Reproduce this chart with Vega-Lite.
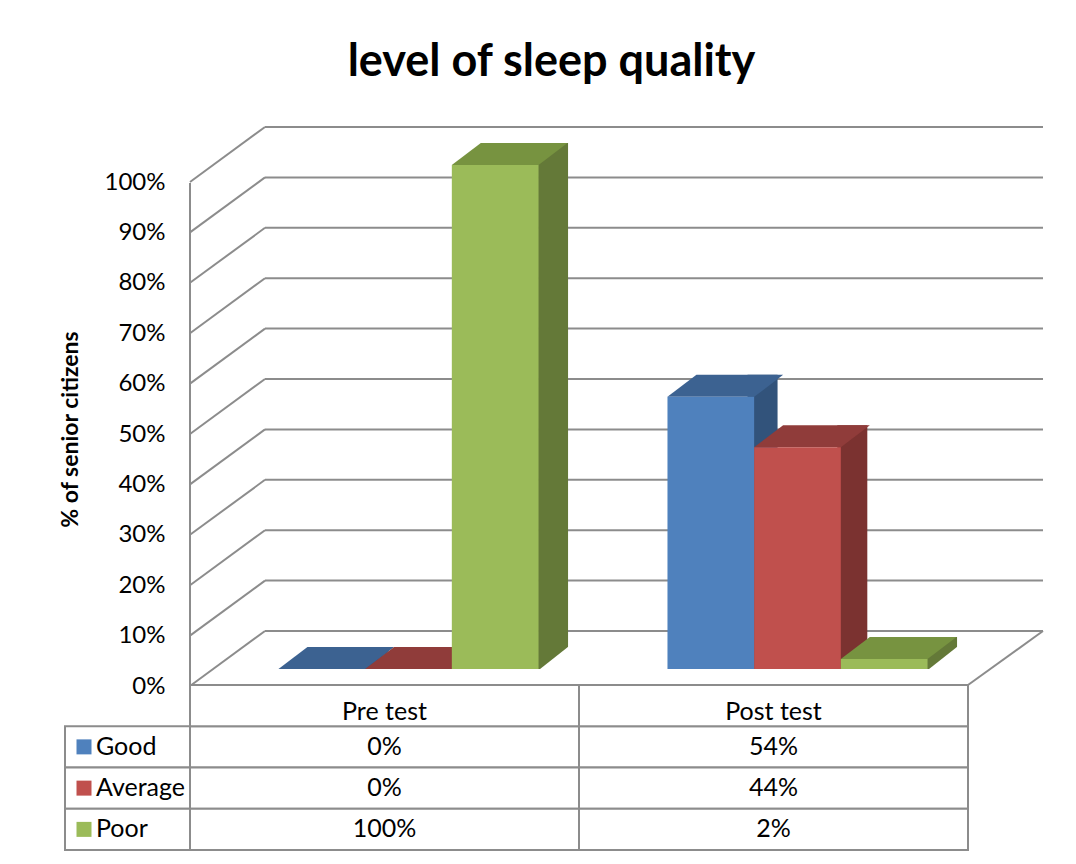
{
  "$schema": "https://vega.github.io/schema/vega-lite/v6.json",
  "background": "white",
  "padding": {"left": 59, "top": 40, "right": 0, "bottom": 0},
  "config": {"font": "Lato", "view": {"stroke": null}},
  "title": {"text": "level of sleep quality", "fontSize": 45, "fontWeight": "bold", "font": "Lato", "color": "black", "offset": 41, "anchor": "middle"},
  "datasets": {
    "bars": [
      {"category": "Pre test", "series": "Good", "value": 0},
      {"category": "Pre test", "series": "Average", "value": 0},
      {"category": "Pre test", "series": "Poor", "value": 1.0},
      {"category": "Post test", "series": "Good", "value": 0.54},
      {"category": "Post test", "series": "Average", "value": 0.44},
      {"category": "Post test", "series": "Poor", "value": 0.02}
    ],
    "ticks": [
      {"t": 0}, {"t": 0.1}, {"t": 0.2}, {"t": 0.3}, {"t": 0.4}, {"t": 0.5},
      {"t": 0.6}, {"t": 0.7}, {"t": 0.8}, {"t": 0.9}, {"t": 1.0}
    ]
  },
  "bounds": "flush",
  "spacing": 16,
  "vconcat": [
    {
      "width": 778,
      "height": 504,
      "layer": [
        {
          "data": {"name": "ticks"},
          "mark": {"type": "rule", "color": "#8c8c8c", "strokeWidth": 2, "xOffset": 75, "x2Offset": 75, "yOffset": -38, "y2Offset": -38},
          "encoding": {
            "x": {"datum": "Pre test", "type": "nominal", "bandPosition": 0, "scale": {"domain": ["Pre test", "Post test"], "paddingInner": 0, "paddingOuter": 0}, "axis": null},
            "x2": {"datum": "Post test", "bandPosition": 1},
            "y": {"field": "t", "type": "quantitative", "scale": {"domain": [0, 1], "nice": false, "zero": true},
              "axis": {"values": [0, 0.1, 0.2, 0.3, 0.4, 0.5, 0.6, 0.7, 0.8, 0.9, 1], "format": ".0%", "labelFontSize": 24, "labelColor": "black", "labelPadding": 25, "labelOffset": 17, "ticks": false, "domain": false, "grid": false, "title": "% of senior citizens", "titleFontSize": 23, "titleFontWeight": "bold", "titleColor": "black", "titlePadding": 22, "titleY": 264, "labelFont": "Lato", "titleFont": "Lato"}},
            "y2": {"field": "t"}
          }
        },
        {
          "data": {"name": "ticks"},
          "mark": {"type": "rule", "color": "#8c8c8c", "strokeWidth": 2, "x2Offset": 75, "yOffset": 17, "y2Offset": -38},
          "encoding": {
            "x": {"datum": "Pre test", "type": "nominal", "bandPosition": 0},
            "x2": {"datum": "Pre test", "bandPosition": 0},
            "y": {"field": "t", "type": "quantitative"},
            "y2": {"field": "t"}
          }
        },
        {
          "data": {"values": [{}]},
          "mark": {"type": "rule", "color": "#8c8c8c", "strokeWidth": 2, "yOffset": 18, "y2Offset": 16},
          "encoding": {
            "x": {"datum": "Pre test", "type": "nominal", "bandPosition": 0},
            "y": {"datum": 1, "type": "quantitative"},
            "y2": {"datum": 0}
          }
        },
        {
          "data": {"values": [{}]},
          "mark": {"type": "rule", "color": "#8c8c8c", "strokeWidth": 2, "x2Offset": 75, "yOffset": 16, "y2Offset": -38},
          "encoding": {
            "x": {"datum": "Post test", "type": "nominal", "bandPosition": 1},
            "x2": {"datum": "Post test", "bandPosition": 1},
            "y": {"datum": 0, "type": "quantitative"},
            "y2": {"datum": 0}
          }
        },
        {
          "data": {"name": "bars"},
          "mark": {"type": "bar", "yOffset": -22},
          "encoding": {
            "x": {"field": "category", "type": "nominal"},
            "xOffset": {"field": "series", "type": "nominal", "sort": ["Good", "Average", "Poor"], "scale": {"type": "band", "domain": ["Good", "Average", "Poor"], "paddingInner": 0.6655, "paddingOuter": 1.0761, "align": 0.939}},
            "y": {"field": "value", "type": "quantitative", "stack": null},
            "color": {"field": "series", "type": "nominal", "scale": {"domain": ["Good", "Average", "Poor"], "range": ["#32537b", "#7b3230", "#647938"]}, "legend": null}
          }
        },
        {
          "data": {"name": "bars"},
          "mark": {"type": "point", "shape": "M0.86,0.03L1.48,0.03L1.48,-0.46Z", "size": 10000, "filled": true, "fill": "white", "opacity": 1, "strokeWidth": 0},
          "encoding": {
            "x": {"field": "category", "type": "nominal"},
            "xOffset": {"field": "series", "type": "nominal", "sort": ["Good", "Average", "Poor"], "scale": {"type": "band", "domain": ["Good", "Average", "Poor"], "paddingInner": 0, "paddingOuter": 0.744, "align": 0.686}},
            "y": {"datum": 0, "type": "quantitative"}
          }
        },
        {
          "data": {"name": "bars"},
          "mark": {"type": "point", "shape": "M-0.867,0L0.867,0L1.447,-0.44L-0.287,-0.44Z", "size": 10000, "filled": true, "opacity": 1, "strokeWidth": 0},
          "encoding": {
            "x": {"field": "category", "type": "nominal"},
            "xOffset": {"field": "series", "type": "nominal", "sort": ["Good", "Average", "Poor"], "scale": {"type": "band", "domain": ["Good", "Average", "Poor"], "paddingInner": 0, "paddingOuter": 0.744, "align": 0.686}},
            "y": {"field": "value", "type": "quantitative"},
            "color": {"field": "series", "type": "nominal", "scale": {"domain": ["Good", "Average", "Poor"], "range": ["#3c6291", "#903c3a", "#779340"]}, "legend": null}
          }
        },
        {
          "data": {"name": "bars"},
          "mark": {"type": "bar"},
          "encoding": {
            "x": {"field": "category", "type": "nominal"},
            "xOffset": {"field": "series", "type": "nominal", "sort": ["Good", "Average", "Poor"], "scale": {"type": "band", "domain": ["Good", "Average", "Poor"], "paddingInner": 0, "paddingOuter": 0.744, "align": 0.686}},
            "y": {"field": "value", "type": "quantitative", "stack": null},
            "color": {"field": "series", "type": "nominal", "scale": {"domain": ["Good", "Average", "Poor"], "range": ["#4f81bd", "#c0504d", "#9bbb59"]}, "legend": null}
          }
        }
      ],
      "resolve": {"scale": {"xOffset": "independent", "color": "independent"}}
    },
    {
      "width": 778,
      "height": 165,
      "data": {"name": "bars"},
      "layer": [
        {
          "mark": {"type": "rect", "fill": "white", "stroke": "#8c8c8c", "strokeWidth": 2},
          "encoding": {
            "x": {"field": "category", "type": "nominal", "scale": {"domain": ["Pre test", "Post test"], "paddingInner": 0, "paddingOuter": 0}, "axis": null},
            "y": {"field": "series", "type": "nominal", "scale": {"domain": ["hdr", "Good", "Average", "Poor"], "paddingInner": 0, "paddingOuter": 0}, "axis": null}
          }
        },
        {
          "transform": [{"filter": "datum.series == 'Good'"}],
          "mark": {"type": "rect", "fill": "white", "stroke": "#8c8c8c", "strokeWidth": 2},
          "encoding": {
            "x": {"field": "category", "type": "nominal"},
            "y": {"datum": "hdr", "type": "nominal"}
          }
        },
        {
          "transform": [{"filter": "datum.category == 'Pre test'"}],
          "mark": {"type": "rect", "fill": "white", "stroke": "#8c8c8c", "strokeWidth": 2, "xOffset": -125},
          "encoding": {
            "x": {"datum": "Pre test", "type": "nominal", "bandPosition": 0},
            "x2": {"datum": "Pre test", "bandPosition": 0},
            "y": {"field": "series", "type": "nominal"}
          }
        },
        {
          "transform": [{"filter": "datum.category == 'Pre test'"}],
          "mark": {"type": "point", "shape": "square", "size": 225, "filled": true, "opacity": 1, "xOffset": -106},
          "encoding": {
            "x": {"datum": "Pre test", "type": "nominal", "bandPosition": 0},
            "y": {"field": "series", "type": "nominal"},
            "color": {"field": "series", "type": "nominal", "scale": {"domain": ["Good", "Average", "Poor"], "range": ["#4f81bd", "#c0504d", "#9bbb59"]}, "legend": null}
          }
        },
        {
          "transform": [{"filter": "datum.category == 'Pre test'"}],
          "mark": {"type": "text", "align": "left", "baseline": "middle", "xOffset": -94, "fontSize": 25, "font": "Lato", "color": "black"},
          "encoding": {
            "x": {"datum": "Pre test", "type": "nominal", "bandPosition": 0},
            "y": {"field": "series", "type": "nominal"},
            "text": {"field": "series"}
          }
        },
        {
          "mark": {"type": "text", "align": "center", "baseline": "middle", "fontSize": 25, "font": "Lato", "color": "black"},
          "encoding": {
            "x": {"field": "category", "type": "nominal"},
            "y": {"field": "series", "type": "nominal"},
            "text": {"field": "value", "type": "quantitative", "format": ".0%"}
          }
        },
        {
          "transform": [{"filter": "datum.series == 'Good'"}],
          "mark": {"type": "text", "align": "center", "baseline": "middle", "fontSize": 25, "font": "Lato", "color": "black", "dy": 6},
          "encoding": {
            "x": {"field": "category", "type": "nominal"},
            "y": {"datum": "hdr", "type": "nominal"},
            "text": {"field": "category"}
          }
        }
      ]
    }
  ]
}
